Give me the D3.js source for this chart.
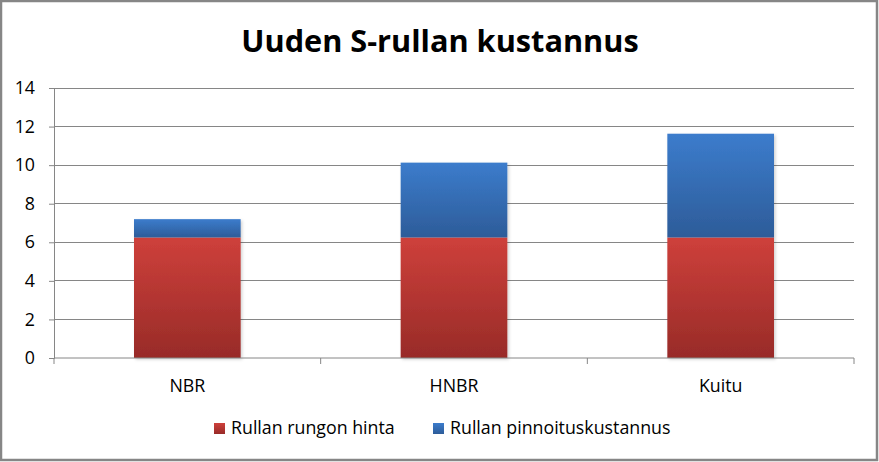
<!DOCTYPE html>
<html><head><meta charset="utf-8">
<script src="https://cdn.jsdelivr.net/npm/d3@7"></script>
<style>
body{margin:0;background:#fff;}
svg{display:block;font-family:"Open Sans", Lato, sans-serif;}
</style></head>
<body><svg id="c" width="879" height="462"></svg>
<script>
const categories = ["NBR", "HNBR", "Kuitu"];
const seriesNames = ["Rullan rungon hinta", "Rullan pinnoituskustannus"];
const runko = [6.25, 6.25, 6.25];
const pinnoitus = [0.95, 3.88, 5.38];
const yTicks = [0, 2, 4, 6, 8, 10, 12, 14];
const title = "Uuden S-rullan kustannus";

const svg = d3.select("#c");
const W = 879, H = 462;
const m = {l: 54, r: 25, t: 88, b: 104};
const FS = 17.8;
const defs = svg.append("defs");
function grad(id, top, bot){
  const g = defs.append("linearGradient").attr("id", id).attr("x1",0).attr("y1",0).attr("x2",0).attr("y2",1);
  g.append("stop").attr("offset","0%").attr("stop-color",top);
  g.append("stop").attr("offset","100%").attr("stop-color",bot);
}
grad("gRed", "#CE403B", "#982B28");
grad("gBlue", "#3C7CCC", "#2D5C99");
const f = defs.append("filter").attr("id","sh").attr("x","-10%").attr("y","-10%").attr("width","130%").attr("height","130%");
f.append("feDropShadow").attr("dx",1.5).attr("dy",1.5).attr("stdDeviation",1.5).attr("flood-color","#000").attr("flood-opacity",0.18);

svg.append("rect").attr("x",1).attr("y",1).attr("width",W-3).attr("height",H-3)
  .attr("fill","#fff").attr("stroke","#868686").attr("stroke-width",2.5);

const x = d3.scaleBand().domain(categories).range([m.l, W - m.r]).padding(0);
const y = d3.scaleLinear().domain([0, 14]).range([H - m.b, m.t]);

// gridlines
svg.append("g").selectAll("line").data(yTicks.slice(1)).join("line")
  .attr("x1", m.l).attr("x2", W - m.r).attr("y1", d => y(d)).attr("y2", d => y(d))
  .attr("stroke", "#868686").attr("stroke-width", 1).attr("shape-rendering","crispEdges");

// bars
const stacked = categories.map((c, i) => ({c, a: runko[i], b: pinnoitus[i]}));
const bw = x.bandwidth() * 0.4;
const bars = svg.append("g").attr("filter","url(#sh)");
bars.selectAll("rect.r").data(stacked).join("rect").attr("class","r")
  .attr("x", d => x(d.c) + (x.bandwidth() - bw) / 2).attr("width", bw)
  .attr("y", d => y(d.a)).attr("height", d => y(0) - y(d.a)).attr("fill","url(#gRed)");
bars.selectAll("rect.b").data(stacked).join("rect").attr("class","b")
  .attr("x", d => x(d.c) + (x.bandwidth() - bw) / 2).attr("width", bw)
  .attr("y", d => y(d.a + d.b)).attr("height", d => y(d.a) - y(d.a + d.b)).attr("fill","url(#gBlue)");

// y axis
const ya = svg.append("g").attr("transform", `translate(${m.l},0)`)
  .call(d3.axisLeft(y).tickValues(yTicks).tickSize(5).tickPadding(14).tickFormat(d3.format("d")));
ya.attr("font-family", null).attr("font-size", null);
ya.select(".domain").attr("stroke","#868686");
ya.selectAll(".tick line").attr("stroke","#868686");
ya.selectAll("text").attr("font-size", FS).attr("fill","#000");

// x axis
const xa = svg.append("g").attr("transform", `translate(0,${y(0)})`)
  .call(d3.axisBottom(x).tickSize(0).tickPadding(21));
xa.attr("font-family", null).attr("font-size", null);
xa.select(".domain").attr("stroke","#868686").attr("d", `M${m.l},0H${W - m.r}`);
xa.selectAll("text").attr("font-size", FS).attr("fill","#000");
const bounds = [m.l, ...categories.map(c => x(c) + x.bandwidth())];
xa.selectAll("line.bt").data(bounds).join("line").attr("class","bt")
  .attr("x1", d => d).attr("x2", d => d).attr("y1", 0).attr("y2", 6).attr("stroke","#868686");

// title
svg.append("text").attr("x", 440).attr("y", 52).attr("text-anchor","middle")
  .attr("font-size", 30.7).attr("font-weight","bold").text(title);

// legend
const lg = svg.append("g").attr("transform","translate(0,434)");
const items = [{n: seriesNames[0], g: "url(#gRed)", x: 214}, {n: seriesNames[1], g: "url(#gBlue)", x: 433}];
items.forEach(it => {
  lg.append("rect").attr("x", it.x).attr("y", -11).attr("width", 11).attr("height", 11).attr("fill", it.g);
  lg.append("text").attr("x", it.x + 17).attr("y", 0).attr("font-size", FS).text(it.n);
});
</script></body></html>
